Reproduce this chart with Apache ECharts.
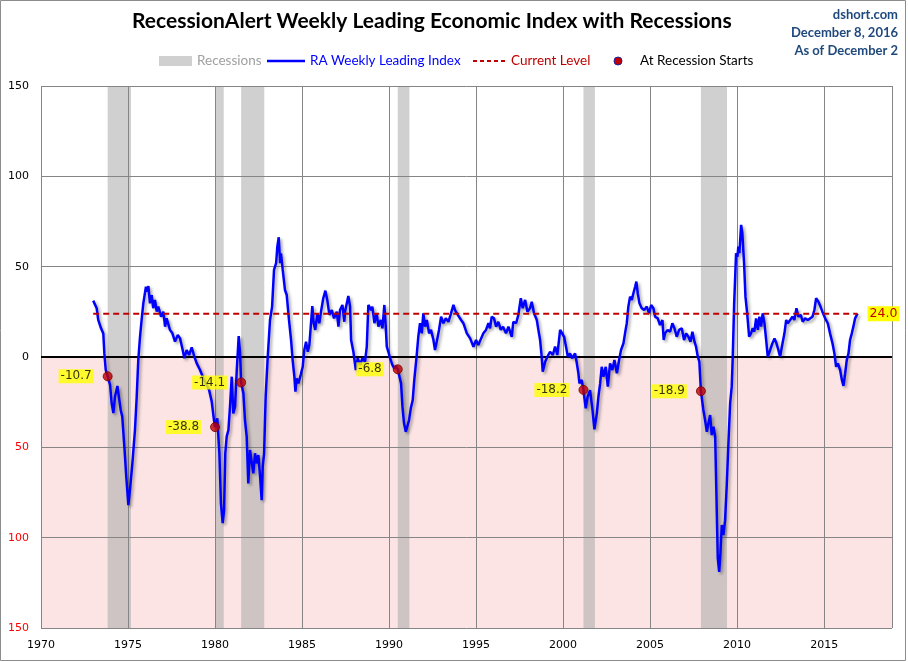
<!doctype html>
<html>
<head>
<meta charset="utf-8">
<script src="https://cdn.jsdelivr.net/npm/echarts@6/dist/echarts.min.js"></script>
<style>html,body{margin:0;padding:0;background:#fff}#chart{width:908px;height:662px}</style>
</head>
<body>
<div id="chart"></div>
<script>
// weekly leading index as [decimal year, value]
var leiData = [
  [1973.0,31.2],[1973.2,27],[1973.29,20.5],[1973.45,15.9],[1973.58,13],[1973.64,2],[1973.72,-7.2],[1973.83,-10.7],[1973.97,-15.5],[1974.06,-25.6],[1974.16,-31],[1974.25,-22],[1974.39,-16],[1974.5,-23.8],[1974.58,-29.3],[1974.67,-33],[1974.79,-49.7],[1974.9,-66.3],[1975.02,-82],[1975.13,-71.8],[1975.25,-58.9],[1975.4,-40.4],[1975.5,-22],[1975.59,-1.7],[1975.69,11.2],[1975.79,21.4],[1975.88,29.7],[1975.94,33.4],[1976.03,38.9],[1976.13,36.2],[1976.17,39.3],[1976.26,29.7],[1976.36,34.3],[1976.45,27],[1976.55,31.6],[1976.65,25.1],[1976.74,27.9],[1976.9,22.3],[1977.03,25.1],[1977.13,16.8],[1977.22,21.4],[1977.41,15],[1977.55,13.1],[1977.7,8.5],[1977.86,12.2],[1977.99,10.3],[1978.12,4.8],[1978.24,-0.7],[1978.37,3.9],[1978.51,1.1],[1978.66,5.3],[1978.81,0.2],[1978.95,-3.5],[1979.14,-7.2],[1979.33,-11.8],[1979.47,-14.6],[1979.66,-18.3],[1979.81,-24.7],[1979.94,-34.9],[1980.0,-38.8],
  [1980.13,-34],[1980.25,-53.3],[1980.34,-81],[1980.44,-92],[1980.52,-84.7],[1980.59,-53.3],[1980.67,-44.1],[1980.77,-40.4],[1980.86,-27.5],[1980.96,-10.9],[1981.05,-31.2],[1981.15,-27.5],[1981.25,-7.2],[1981.36,11.6],[1981.44,2],[1981.5,-14.1],[1981.63,-20.1],[1981.72,-34.9],[1981.82,-44.1],[1981.91,-70],[1982.01,-51.5],[1982.11,-51.5],[1982.2,-64.4],[1982.3,-53.3],[1982.4,-58.9],[1982.49,-54.3],[1982.59,-66.3],[1982.68,-79.2],[1982.74,-60.7],[1982.82,-53.3],[1982.91,-22],[1983.03,0.2],[1983.16,20.5],[1983.28,27.9],[1983.39,48.2],[1983.51,51.9],[1983.58,61.1],[1983.66,66.3],[1983.74,51.9],[1983.79,57.4],[1983.89,48.2],[1984.02,37.1],[1984.12,34.3],[1984.25,20.5],[1984.37,9.4],[1984.46,-1.7],[1984.56,-10.9],[1984.62,-19.2],[1984.69,-11.8],[1984.79,-14.6],[1984.92,-10],[1985.04,-5.4],[1985.13,3.9],[1985.23,8.5],[1985.33,2.9],[1985.42,6.6],[1985.5,16.8],[1985.59,28.2],[1985.67,18.7],[1985.76,15],[1985.88,24.2],[1985.99,18.7],[1986.09,25.1],[1986.22,32.5],[1986.34,36.7],[1986.45,31.6],[1986.57,23.3],[1986.71,26],[1986.84,21.4],[1987.0,25.1],[1987.09,16.8],[1987.18,26],[1987.32,28.8],[1987.43,19.5],
  [1987.47,25.1],[1987.57,24.2],[1987.66,33.8],[1987.76,27.9],[1987.82,9.4],[1987.95,2.9],[1988.09,-7.2],[1988.2,-0.7],[1988.33,-4.4],[1988.47,-0.7],[1988.62,-2.6],[1988.72,5.7],[1988.81,28.8],[1988.97,26],[1989.04,27.9],[1989.16,18.7],[1989.29,24.2],[1989.39,16.8],[1989.52,20.5],[1989.62,15.9],[1989.73,28.8],[1989.81,16.8],[1989.87,5.7],[1989.96,2.9],[1990.06,-0.7],[1990.19,-4.4],[1990.3,-6.3],[1990.4,-5],[1990.5,-6.8],[1990.69,-14.6],[1990.77,-27.5],[1990.86,-36.7],[1990.96,-41.4],[1991.07,-40.4],[1991.15,-34.9],[1991.25,-28.4],[1991.36,-23.8],[1991.45,-12.7],[1991.59,1.1],[1991.68,11.2],[1991.78,18.7],[1991.88,13.1],[1991.97,24.2],[1992.07,16.8],[1992.17,20.5],[1992.3,13.1],[1992.41,15],[1992.55,9.4],[1992.64,3.9],[1992.74,8.5],[1992.87,15],[1992.99,22.3],[1993.12,18.7],[1993.26,21.4],[1993.41,19.5],[1993.56,24.2],[1993.7,28.8],[1993.79,26],[1993.95,23.3],
  [1994.14,20.5],[1994.27,18.7],[1994.47,13.1],[1994.66,10.3],[1994.85,5.7],[1995.0,9.4],[1995.13,6.6],[1995.29,10.3],[1995.42,13.1],[1995.57,15],[1995.71,18.7],[1995.8,15.9],[1995.9,22.3],[1996.03,21.4],[1996.15,16.8],[1996.28,19.5],[1996.42,15],[1996.55,16.8],[1996.72,13.1],[1996.86,16.8],[1997.05,11.2],[1997.14,19.5],[1997.3,18.7],[1997.43,23.3],[1997.57,32.5],[1997.68,27],[1997.82,31.6],[1997.95,25.1],[1998.1,27],[1998.2,30.6],[1998.33,24.2],[1998.49,20.5],[1998.58,15],[1998.68,9.4],[1998.77,0.2],[1998.83,-8.1],[1998.97,-2.6],[1999.1,0.2],[1999.25,2.9],[1999.41,1.1],[1999.54,5.7],[1999.67,1.1],[1999.83,15],[1999.92,14],[2000.06,11.2],[2000.17,5.7],[2000.27,0.2],[2000.4,2],[2000.52,-0.7],[2000.69,2],[2000.79,-3.5],[2000.88,-9],[2000.94,-14.6],[2001.07,-12.7],[2001.17,-18.2],[2001.3,-28.4],
  [2001.41,-22],[2001.55,-18.3],[2001.69,-29.3],[2001.8,-40],[2001.94,-31.2],[2002.03,-22],[2002.13,-14.6],[2002.22,-5.4],[2002.32,-10.9],[2002.45,-5.4],[2002.57,-16.4],[2002.7,-3.5],[2002.83,-7.2],[2002.95,-1.7],[2003.09,-9],[2003.22,-1.7],[2003.33,3.9],[2003.47,7.6],[2003.56,13.1],[2003.66,18.7],[2003.75,27.9],[2003.85,33.4],[2003.95,31.6],[2004.04,35.3],[2004.14,38.9],[2004.21,41.7],[2004.29,35.3],[2004.39,29.7],[2004.52,27],[2004.66,26],[2004.81,27.9],[2004.94,24.2],[2005.06,28.8],[2005.19,27],[2005.29,22.3],[2005.44,21.4],[2005.57,17.7],[2005.71,20.5],[2005.78,9.4],[2005.86,13.1],[2006.01,15],[2006.15,14],[2006.28,18.7],[2006.4,15.9],[2006.53,11.2],[2006.67,15],[2006.82,15.9],[2006.95,9.4],[2007.07,13.1],[2007.2,11.2],[2007.32,8.5],[2007.43,14],[2007.55,8.5],[2007.64,5.7],[2007.74,0.2],[2007.83,-2.6],[2007.92,-18.9],
  [2008.06,-29.3],[2008.16,-34.9],[2008.26,-41.4],[2008.35,-36.7],[2008.45,-32.1],[2008.54,-43.2],[2008.64,-38.6],[2008.74,-44.1],[2008.79,-66.3],[2008.85,-94],[2008.89,-111.5],[2008.97,-118.9],[2009.04,-108.7],[2009.12,-93],[2009.21,-98.6],[2009.31,-90.3],[2009.41,-69.9],[2009.5,-47.8],[2009.6,-25.6],[2009.69,-16.4],[2009.75,0.2],[2009.83,29.7],[2009.89,44.5],[2009.94,57.4],[2010.02,55.5],[2010.07,61.1],[2010.13,57.4],[2010.23,73.1],[2010.3,68.5],[2010.4,51.9],[2010.48,33.4],[2010.56,26],[2010.61,20.5],[2010.69,11.2],[2010.8,13.1],[2010.9,15.9],[2010.99,14],[2011.09,21.4],[2011.19,15],[2011.28,22.3],[2011.38,16.8],[2011.47,24.2],[2011.57,18.7],[2011.67,9.4],[2011.76,0.2],[2011.9,3.9],[2012.03,7.6],[2012.15,10.3],[2012.26,7.6],[2012.37,3.9],[2012.47,0.2],[2012.61,7.6],[2012.72,13.1],[2012.82,20.5],[2012.91,18.7],[2013.05,20.5],[2013.18,22.3],[2013.29,20.5],[2013.41,27],[2013.52,22.3],[2013.66,23.3],[2013.77,19.5],[2013.91,21.4],[2014.06,20.5],[2014.2,21.4],[2014.33,22.3],[2014.44,26],[2014.54,32.5],[2014.67,30.6],[2014.79,27.9],[2014.9,25.1],
  [2015.06,21.4],[2015.21,18.7],[2015.34,13.1],[2015.48,7.6],[2015.59,2],[2015.69,-5.4],[2015.79,-3.5],[2015.92,-7.2],[2016.02,-12.7],[2016.11,-16],[2016.21,-9],[2016.3,-1.7],[2016.4,2],[2016.49,9.4],[2016.59,13.1],[2016.68,16.8],[2016.78,21.4],[2016.88,23.3],[2016.92,24.0]
];

// NBER recessions (decimal years)
var recStart = [1973.83, 1980.0, 1981.5, 1990.5, 2001.17, 2007.92];
var recEnd   = [1975.17, 1980.5, 1982.83, 1991.17, 2001.83, 2009.42];
// index value at each recession start
var startValues = [-10.7, -38.8, -14.1, -6.8, -18.2, -18.9];

var currentLevel = 24.0;
var currentFrom = 1973.0, currentTo = 2016.92;

var yTicks = [-150, -100, -50, 0, 50, 100, 150];

var recAreas = recStart.map(function(s, i){ return [{xAxis: s}, {xAxis: recEnd[i]}]; });
var startPoints = recStart.map(function(s, i){ return [s, startValues[i]]; });

var chart = echarts.init(document.getElementById('chart'));
var lblFont = 'DejaVu Sans';
var txtFont = 'Lato';

var option = {
  animation: false,
  grid: {left: 41, right: 16, top: 86, bottom: 34},
  xAxis: {
    type: 'value', min: 1970, max: 2018.9, interval: 5, z: 2,
    axisLine: {show: false}, axisTick: {show: false},
    axisLabel: {
      margin: 12, fontFamily: lblFont, fontSize: 11, color: '#000',
      formatter: function(v){ return (Math.round(v) === v && v % 5 === 0) ? String(v) : ''; }
    },
    splitLine: {show: true, lineStyle: {color: '#858585', width: 1}}
  },
  yAxis: {
    type: 'value', min: yTicks[0], max: yTicks[yTicks.length - 1], interval: 50, z: 2,
    axisLine: {show: false}, axisTick: {show: false},
    axisLabel: {
      margin: 12, fontFamily: lblFont, fontSize: 11,
      formatter: function(v){ return String(Math.abs(v)); },
      color: function(v){ return Number(v) < 0 ? '#FF0000' : '#000'; }
    },
    splitLine: {show: true, lineStyle: {color: '#858585', width: 1}}
  },
  graphic: [
    {type: 'rect', silent: true, shape: {x: 0.5, y: 0.5, width: 905, height: 660}, style: {fill: null, stroke: '#8c8c8c', lineWidth: 1}},
    {type: 'text', left: 132, top: 11, style: {text: 'RecessionAlert Weekly Leading Economic Index with Recessions', font: 'bold 21px ' + txtFont, fill: '#000'}},
    {type: 'text', x: 898, y: 8, style: {text: 'dshort.com', font: 'bold 13px ' + txtFont, fill: '#1F497D', align: 'right'}},
    {type: 'text', x: 898, y: 26, style: {text: 'December 8, 2016', font: 'bold 13px ' + txtFont, fill: '#1F497D', align: 'right'}},
    {type: 'text', x: 898, y: 44, style: {text: 'As of December 2', font: 'bold 13px ' + txtFont, fill: '#1F497D', align: 'right'}},
    // legend
    {type: 'rect', shape: {x: 159, y: 56, width: 33, height: 10}, style: {fill: '#D0D0D0'}},
    {type: 'text', x: 197, y: 61, style: {text: 'Recessions', font: '13.5px ' + txtFont, fill: '#A0A0A0', verticalAlign: 'middle'}},
    {type: 'line', shape: {x1: 267, y1: 61, x2: 305, y2: 61}, style: {stroke: '#0000FF', lineWidth: 2.5}},
    {type: 'text', x: 310, y: 61, style: {text: 'RA Weekly Leading Index', font: '13.5px ' + txtFont, fill: '#0000FF', verticalAlign: 'middle'}},
    {type: 'line', shape: {x1: 473, y1: 61, x2: 508, y2: 61}, style: {stroke: '#C00000', lineWidth: 2, lineDash: [4, 3]}},
    {type: 'text', x: 511, y: 61, style: {text: 'Current Level', font: '13.5px ' + txtFont, fill: '#C00000', verticalAlign: 'middle'}},
    {type: 'circle', shape: {cx: 618, cy: 61, r: 4}, style: {fill: '#C00000', stroke: '#1F1F9F', lineWidth: 1}},
    {type: 'text', x: 640, y: 61, style: {text: 'At Recession Starts', font: '13.5px ' + txtFont, fill: '#000', verticalAlign: 'middle'}}
  ],
  series: [
    {
      name: 'negative zone', type: 'line', data: [], z: 1, silent: true,
      markArea: {silent: true, itemStyle: {color: '#FDE4E4'}, data: [[{yAxis: -150}, {yAxis: 0}]]}
    },
    {
      name: 'Recessions', type: 'line', data: [], z: 3, silent: true,
      markArea: {silent: true, itemStyle: {color: 'rgba(170,170,170,0.55)'}, data: recAreas}
    },
    {
      name: 'zero', type: 'line', data: [], z: 4, silent: true,
      markLine: {silent: true, symbol: 'none', label: {show: false},
        lineStyle: {color: '#000', width: 2, type: 'solid'}, data: [{yAxis: 0}]}
    },
    {
      name: 'RA Weekly Leading Index', type: 'line', data: leiData, z: 6,
      showSymbol: false, symbol: 'none',
      lineStyle: {color: '#0000FF', width: 2.5, shadowColor: 'rgba(0,0,0,0.35)', shadowBlur: 3, shadowOffsetX: 2, shadowOffsetY: 2}
    },
    {
      name: 'Current Level', type: 'line', z: 7, symbol: 'none',
      data: [[currentFrom, currentLevel], [currentTo, currentLevel]],
      lineStyle: {color: '#C00000', width: 2, type: [6, 4]},
      endLabel: {show: true, distance: 10, formatter: function(){ return currentLevel.toFixed(1); },
        color: '#C00000', backgroundColor: '#FFFF00', padding: [1, 2], fontFamily: lblFont, fontSize: 12.5}
    },
    {
      name: 'At Recession Starts', type: 'scatter', z: 8, data: startPoints,
      symbolSize: 9,
      itemStyle: {color: '#C00000', borderColor: '#7a0000', borderWidth: 1},
      label: {show: true, position: 'left', distance: 9,
        formatter: function(p){ return p.value[1].toFixed(1); },
        color: '#000', backgroundColor: '#FFFF00', padding: [1, 2], fontFamily: lblFont, fontSize: 12}
    }
  ]
};
chart.setOption(option);
</script>
</body>
</html>
